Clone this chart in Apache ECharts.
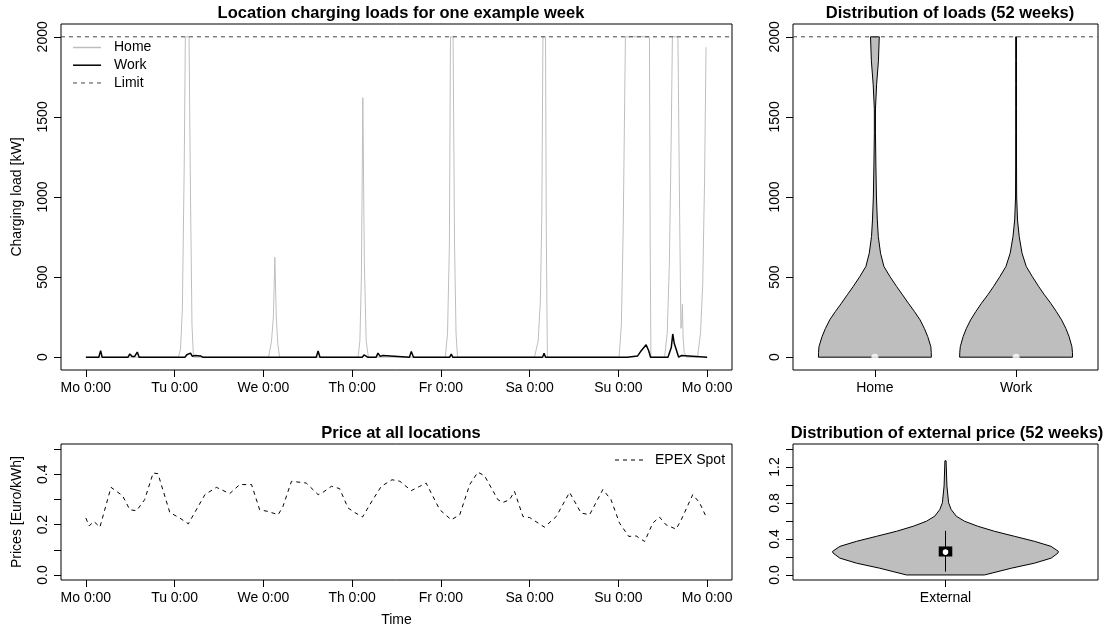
<!DOCTYPE html>
<html>
<head>
<meta charset="utf-8">
<script src="https://cdn.jsdelivr.net/npm/echarts@6.0.0/dist/echarts.min.js"></script>
</head>
<body style="margin:0">
<div id="container" style="width:1110px;height:633px;"></div>
<script type="text/javascript">
var FONT = 'Liberation Sans, Arial, Helvetica, sans-serif';

// weekly time axis (hours from Monday 0:00)
var dayTicks = [0, 24, 48, 72, 96, 120, 144, 168];
var dayLabels = ['Mo 0:00', 'Tu 0:00', 'We 0:00', 'Th 0:00', 'Fr 0:00', 'Sa 0:00', 'Su 0:00', 'Mo 0:00'];

// charging loads of the example week [kW]
var limitLoad = 2000;
var loadTicks = [0, 500, 1000, 1500, 2000];
var homeHours = [0, 25, 25.6, 26.1, 26.6, 26.9, 27.9, 28.3, 28.7, 29.1,
  49.4, 50.2, 50.7, 51.1, 51.5, 51.9, 52.4,
  73.6, 74.1, 74.5, 74.9, 75.3, 75.8, 76.4,
  97.2, 97.8, 98.3, 98.6, 99.3, 99.7, 100.1, 100.5,
  121.3, 122.3, 122.9, 123.3, 123.6, 124.3, 124.5, 124.8,
  144.2, 144.8, 145.3, 145.7, 145.9, 152.4, 152.6, 152.8,
  156.5, 157.2, 157.8, 158.3, 158.6, 160.1, 160.6, 160.9, 161.1, 161.3, 161.5, 161.8, 162.1, 162.4,
  165.4, 166.2, 166.8, 167.3, 167.7];
var homeLoad = [0, 0, 50, 300, 1200, 2000, 2000, 1000, 200, 0,
  0, 100, 250, 624, 250, 80, 0,
  0, 100, 500, 1620, 600, 100, 0,
  0, 150, 700, 2000, 2000, 700, 150, 0,
  0, 100, 350, 900, 2000, 2000, 800, 0,
  0, 200, 800, 1600, 2000, 2000, 700, 0,
  0, 150, 600, 1400, 2000, 2000, 800, 180, 200, 330, 120, 30, 25, 0,
  0, 150, 450, 1100, 1935];
var workHours = [0, 3.5, 4, 4.4, 11.4, 11.9, 12.5, 13.2, 13.9, 14.4,
  26.8, 27.3, 27.8, 28.3, 28.8, 29.5, 30, 31, 31.6, 38.6, 38.9, 39.2,
  60.4, 60.8, 61.3, 62.3, 62.8, 63.3,
  74.8, 75.2, 75.7, 76.2, 78.5, 79, 79.6, 80.3, 80.8,
  87.5, 88, 88.6, 98.4, 98.8, 99.2, 104.4, 104.7, 105, 110.6, 110.9, 111.4, 112.4, 112.8, 113.2,
  118.8, 119.1, 119.5, 123.5, 123.9, 124.3,
  146.4, 146.7, 149.2, 150, 151.5, 152.2, 152.7, 157.4, 158.3, 158.7, 159.1, 159.5, 160.3, 161, 161.5, 168];
var workLoad = [0, 0, 41, 0, 0, 20, 5, 5, 32, 0,
  0, 15, 10, 25, 5, 10, 0, 8, 0, 0, 8, 0,
  0, 10, 0, 0, 39, 0,
  0, 15, 5, 0, 0, 25, 5, 10, 0,
  0, 35, 0, 0, 20, 0, 0, 10, 0, 0, 8, 0, 0, 8, 0,
  0, 10, 0, 0, 25, 0,
  0, 8, 8, 35, 77, 40, 0, 0, 60, 145, 87, 77, 0, 10, 0, 0];

// EPEX spot price [Euro/kWh]
var priceHours = [0, 0.9, 2.2, 3.8, 6.8, 9.9, 11.9, 13.7, 15.9, 18.2,
  19.5, 22.7, 25.4, 27.7, 32.2, 35.3, 38.9, 41.6, 44.8, 47,
  49.3, 52, 53.3, 55.6, 59.6, 62.8, 64.1, 66.4, 68.6, 70.9,
  72.7, 74.8, 77.6, 79.9, 82.8, 84.9, 88, 90.3, 92, 95.7,
  98.8, 101.1, 103.8, 106, 107.8, 111.4, 112.8, 114.6, 115.9, 118.2,
  120, 124, 127.2, 130.8, 133.9, 136.2, 139.8, 142, 144.3, 146.8,
  148.8, 151.1, 153.3, 155.1, 156.9, 159.6, 161, 164.1, 165.9, 167.7];
var priceValues = [0.226, 0.195, 0.212, 0.19, 0.348, 0.315, 0.259, 0.255, 0.299, 0.405,
  0.402, 0.248, 0.226, 0.203, 0.319, 0.348, 0.323, 0.359, 0.359, 0.259,
  0.252, 0.239, 0.272, 0.372, 0.365, 0.319, 0.328, 0.352, 0.343, 0.266,
  0.248, 0.23, 0.299, 0.352, 0.378, 0.372, 0.335, 0.352, 0.365, 0.259,
  0.219, 0.239, 0.359, 0.408, 0.394, 0.299, 0.288, 0.299, 0.332, 0.232,
  0.228, 0.19, 0.232, 0.328, 0.246, 0.239, 0.339, 0.299, 0.206, 0.153,
  0.155, 0.133, 0.206, 0.23, 0.199, 0.182, 0.219, 0.319, 0.288, 0.232];
var priceTicks = [0, 0.1, 0.2, 0.3, 0.4, 0.5];
var priceLabelTicks = [0, 0.2, 0.4];

// violins of loads (52 weeks): half widths per load level
var violinCats = ['Home', 'Work'];
var loadLevels = [0, 30, 66, 129, 180, 233, 285, 337, 390, 441, 503, 566, 649, 753, 857, 1000, 1200, 1400, 1550, 1700, 1850, 2000];
var homeHalfWidth = [0.400, 0.399, 0.396, 0.374, 0.35, 0.32, 0.28, 0.237, 0.195, 0.154, 0.107, 0.064, 0.04, 0.024, 0.017, 0.011, 0.007, 0.004, 0.004, 0.012, 0.025, 0.031];
var workHalfWidth = [0.400, 0.399, 0.395, 0.375, 0.352, 0.322, 0.285, 0.245, 0.2, 0.16, 0.115, 0.072, 0.042, 0.022, 0.01, 0.004, 0.003, 0.003, 0.003, 0.003, 0.003, 0.003];
var loadMedians = [0, 0];

// violin of external price (52 weeks)
var extLevels = [0, 0.075, 0.131, 0.187, 0.243, 0.262, 0.318, 0.374, 0.43, 0.486, 0.542, 0.598, 0.654, 0.728, 0.803, 0.99, 1.27];
var extHalfWidth = [0.138, 0.233, 0.315, 0.374, 0.398, 0.40, 0.374, 0.315, 0.244, 0.173, 0.114, 0.067, 0.038, 0.02, 0.011, 0.005, 0.002];
var extBox = [0.037, 0.205, 0.254, 0.317, 0.49]; // whisker low, q1, median, q3, whisker high
var extTicks = [0, 0.2, 0.4, 0.6, 0.8, 1.0, 1.2, 1.4];
var extLabelTicks = [0, 0.4, 0.8, 1.2];

function pairs(xs, ys) {
    return xs.map(function (x, i) { return [x, ys[i]]; });
}

var labelFont = {fontSize: 14, fontFamily: FONT, color: '#000'};
var solidIcon = 'rect';
var dashIcon = 'path://M0,0h4v1h-4zM8,0h4v1h-4zM16,0h4v1h-4zM24,0h4v1h-4z';

function xAxisOf(grid, min, max, ticks, fmt) {
    return {
        type: 'value', gridIndex: grid, min: min, max: max,
        axisLine: {show: false, onZero: false},
        axisTick: {show: true, length: 7, inside: false, customValues: ticks, lineStyle: {color: '#000'}},
        axisLabel: Object.assign({customValues: ticks, margin: 11, formatter: fmt}, labelFont),
        splitLine: {show: false}
    };
}
function yAxisOf(grid, min, max, ticks, labels, fmt) {
    return {
        type: 'value', gridIndex: grid, min: min, max: max,
        axisLine: {show: false, onZero: false},
        axisTick: {show: true, length: 7, customValues: ticks, lineStyle: {color: '#000'}},
        axisLabel: Object.assign({customValues: labels, rotate: 90, margin: 11, formatter: fmt}, labelFont),
        splitLine: {show: false}
    };
}
function plain(v) { return String(v); }
function oneDec(v) { return v.toFixed(1); }

function violinRender(levels, half, center) {
    return function (params, api) {
        var pts = [], i;
        for (i = 0; i < levels.length; i++) pts.push(api.coord([center - half[i], levels[i]]));
        for (i = levels.length - 1; i >= 0; i--) pts.push(api.coord([center + half[i], levels[i]]));
        return {type: 'polygon', shape: {points: pts}, style: {fill: '#BEBEBE', stroke: '#000', lineWidth: 1}};
    };
}

var dom = document.getElementById('container');
var myChart = echarts.init(dom);
var option = {
    animation: false,
    textStyle: {fontFamily: FONT},
    title: [
        {text: 'Location charging loads for one example week', left: 396, top: 0, textAlign: 'center'},
        {text: 'Distribution of loads (52 weeks)', left: 945, top: 0, textAlign: 'center'},
        {text: 'Price at all locations', left: 396, top: 420, textAlign: 'center'},
        {text: 'Distribution of external price (52 weeks)', left: 942, top: 420, textAlign: 'center'}
    ].map(function (t) {
        t.textStyle = {fontSize: 16.5, fontWeight: 'bold', fontFamily: FONT, color: '#000'};
        return t;
    }),
    legend: [
        {data: [{name: 'Home', icon: solidIcon}, {name: 'Work', icon: solidIcon}, {name: 'Limit', icon: dashIcon}],
         orient: 'vertical', left: 73, top: 40.5, padding: 0,
         itemWidth: 28, itemHeight: 1.5, itemGap: 3.7, selectedMode: false,
         textStyle: {fontSize: 14, fontFamily: FONT, color: '#000', padding: [0, 0, 0, 8]}},
        {data: [{name: 'EPEX Spot', icon: dashIcon}], orient: 'vertical', left: 615, top: 453, padding: 0,
         itemWidth: 28, itemHeight: 1.2, selectedMode: false,
         textStyle: {fontSize: 14, fontFamily: FONT, color: '#000', padding: [0, 0, 0, 7]}}
    ],
    grid: [
        {left: 61, top: 24, width: 671, height: 346},
        {left: 793, top: 24, width: 305, height: 346},
        {left: 61, top: 444, width: 671, height: 136},
        {left: 793, top: 444, width: 305, height: 136}
    ].map(function (g) {
        g.show = true; g.borderColor = '#000'; g.borderWidth = 1; g.backgroundColor = 'transparent';
        return g;
    }),
    xAxis: [
        xAxisOf(0, -6.72, 174.72, dayTicks, function (v) { return dayLabels[dayTicks.indexOf(v)]; }),
        xAxisOf(1, 0.42, 2.58, [1, 2], function (v) { return violinCats[v - 1]; }),
        Object.assign(xAxisOf(2, -6.72, 174.72, dayTicks, function (v) { return dayLabels[dayTicks.indexOf(v)]; }),
            {name: 'Time', nameLocation: 'middle', nameGap: 33, nameTextStyle: labelFont}),
        xAxisOf(3, 0.46, 1.54, [1], function () { return 'External'; })
    ],
    yAxis: [
        Object.assign(yAxisOf(0, -80, 2080, loadTicks, loadTicks, plain),
            {name: 'Charging load [kW]', nameLocation: 'middle', nameGap: 37, nameTextStyle: labelFont}),
        yAxisOf(1, -80, 2080, loadTicks, loadTicks, plain),
        Object.assign(yAxisOf(2, -0.02, 0.52, priceTicks, priceLabelTicks, oneDec),
            {name: 'Prices [Euro/kWh]', nameLocation: 'middle', nameGap: 37, nameTextStyle: labelFont}),
        yAxisOf(3, -0.056, 1.456, extTicks, extLabelTicks, oneDec)
    ],
    series: [
        {type: 'line', name: 'Home', xAxisIndex: 0, yAxisIndex: 0, symbol: 'none',
         lineStyle: {color: '#BEBEBE', width: 1}, itemStyle: {color: '#BEBEBE'},
         data: pairs(homeHours, homeLoad)},
        {type: 'line', name: 'Work', xAxisIndex: 0, yAxisIndex: 0, symbol: 'none', z: 3,
         lineStyle: {color: '#000', width: 1.5}, itemStyle: {color: '#000'},
         data: pairs(workHours, workLoad)},
        {type: 'line', name: 'Limit', xAxisIndex: 0, yAxisIndex: 0, symbol: 'none',
         lineStyle: {color: '#444', width: 1, type: [4, 4]}, itemStyle: {color: '#444'},
         data: [[-6.72, limitLoad], [174.72, limitLoad]]},
        {type: 'line', xAxisIndex: 1, yAxisIndex: 1, symbol: 'none', silent: true, z: 4,
         lineStyle: {color: '#444', width: 1, type: [4, 4]},
         data: [[0.42, limitLoad], [2.58, limitLoad]]},
        {type: 'custom', xAxisIndex: 1, yAxisIndex: 1, data: [[1, 0]],
         renderItem: violinRender(loadLevels, homeHalfWidth, 1)},
        {type: 'custom', xAxisIndex: 1, yAxisIndex: 1, data: [[2, 0]],
         renderItem: violinRender(loadLevels, workHalfWidth, 2)},
        {type: 'scatter', xAxisIndex: 1, yAxisIndex: 1, symbol: 'circle', symbolSize: 7, z: 5,
         itemStyle: {color: '#fff'}, data: pairs([1, 2], loadMedians)},
        {type: 'line', name: 'EPEX Spot', xAxisIndex: 2, yAxisIndex: 2, symbol: 'none',
         lineStyle: {color: '#000', width: 1, type: [4, 4]}, itemStyle: {color: '#000'},
         data: pairs(priceHours, priceValues)},
        {type: 'custom', xAxisIndex: 3, yAxisIndex: 3, data: [[1, 0]],
         renderItem: violinRender(extLevels, extHalfWidth, 1)},
        {type: 'custom', xAxisIndex: 3, yAxisIndex: 3, data: [[1, extBox[2]]], z: 4,
         renderItem: function (params, api) {
             var lo = api.coord([1, extBox[0]]), hi = api.coord([1, extBox[4]]);
             var a = api.coord([1 - 0.024, extBox[3]]), b = api.coord([1 + 0.024, extBox[1]]);
             var m = api.coord([1, extBox[2]]);
             return {type: 'group', children: [
                 {type: 'line', shape: {x1: lo[0], y1: lo[1], x2: hi[0], y2: hi[1]}, style: {stroke: '#000', lineWidth: 1}},
                 {type: 'rect', shape: {x: a[0], y: a[1], width: b[0] - a[0], height: b[1] - a[1]}, style: {fill: '#000'}},
                 {type: 'circle', shape: {cx: m[0], cy: m[1], r: 2.8}, style: {fill: '#fff'}}
             ]};
         }}
    ]
};
myChart.setOption(option);
</script>
</body>
</html>
